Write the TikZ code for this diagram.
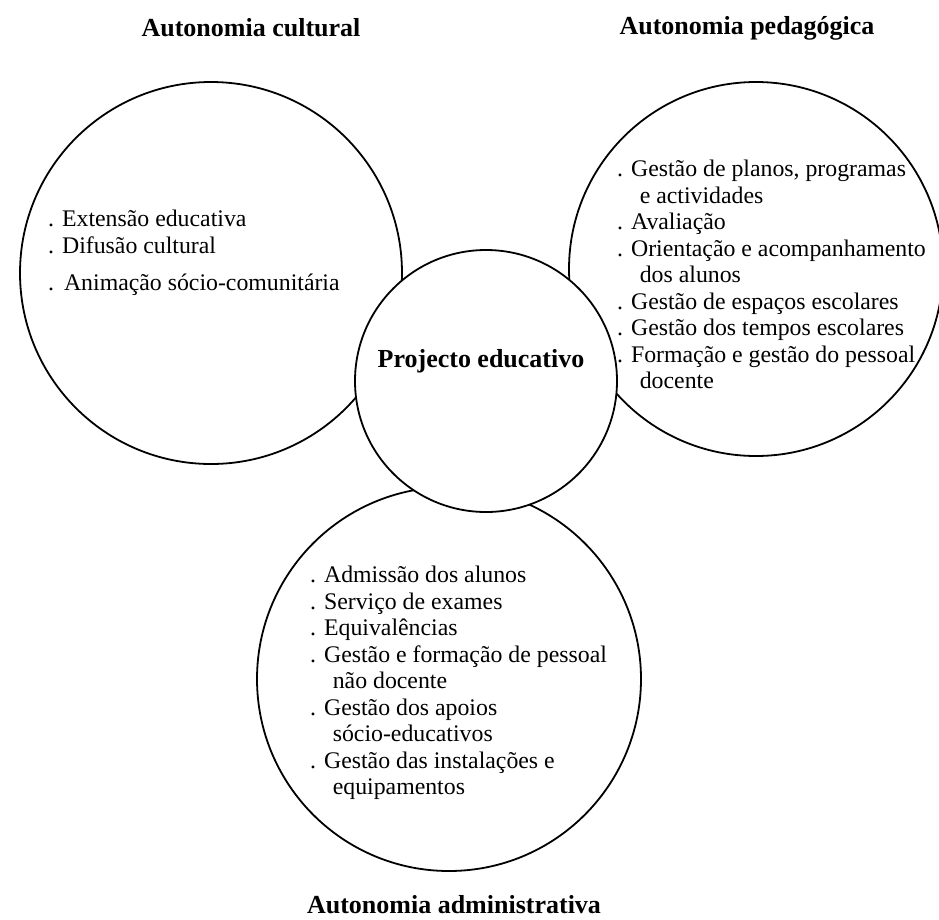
\documentclass[tikz,border=0pt]{standalone}
\usepackage{fontspec}
\setmainfont{Liberation Serif}
\usepackage{tikz}
\usetikzlibrary{positioning}
\tikzset{
    esfera/.style={circle, draw=black, line width=1.8pt, fill=white, inner sep=0pt},
    titulo/.style={font=\fontsize{26}{30}\selectfont\bfseries, anchor=base, inner sep=0pt},
    lista/.style={font=\fontsize{23.8}{26.5}\selectfont, align=left, anchor=north west, inner sep=0pt}
}
\newcommand{\recuo}{\hspace*{0.95em}}

\begin{document}
\begin{tikzpicture}[x=1pt, y=-1pt]
    \useasboundingbox (0,0) rectangle (939,919);
    \clip (0,0) rectangle (939,919);

    \node (cultural) [esfera, minimum size=382pt] at (211,273) {};
    \node (pedagogica) [esfera, minimum size=374pt] at (756,269) {};
    \node (administrativa) [esfera, minimum size=384pt] at (449,679) {};
    \node (projecto) [esfera, minimum size=262pt] at (486,381) {};

    \node (tcultural) [titulo] at (251,36) {Autonomia cultural};
    \node (tpedagogica) [titulo] at (747,34) {Autonomia pedagógica};
    \node (tadministrativa) [titulo] at (454,913) {Autonomia administrativa};
    \node (tprojecto) [titulo] at (481,367) {Projecto educativo};

    \node (lcultural) [lista] at (48,210) {. Extensão educativa\\
        . Difusão cultural\\[11pt]
        .\ \,Animação sócio-comunitária};
    \node (lpedagogica) [lista] at (617,160) {. Gestão de planos, programas\\
        \recuo e actividades\\
        . Avaliação\\
        . Orientação e acompanhamento\\
        \recuo dos alunos\\
        . Gestão de espaços escolares\\
        . Gestão dos tempos escolares\\
        . Formação e gestão do pessoal\\
        \recuo docente};
    \node (ladministrativa) [lista] at (310,566) {. Admissão dos alunos\\
        . Serviço de exames\\
        . Equivalências\\
        . Gestão e formação de pessoal\\
        \recuo não docente\\
        . Gestão dos apoios\\
        \recuo sócio-educativos\\
        . Gestão das instalações e\\
        \recuo equipamentos};
\end{tikzpicture}
\end{document}
